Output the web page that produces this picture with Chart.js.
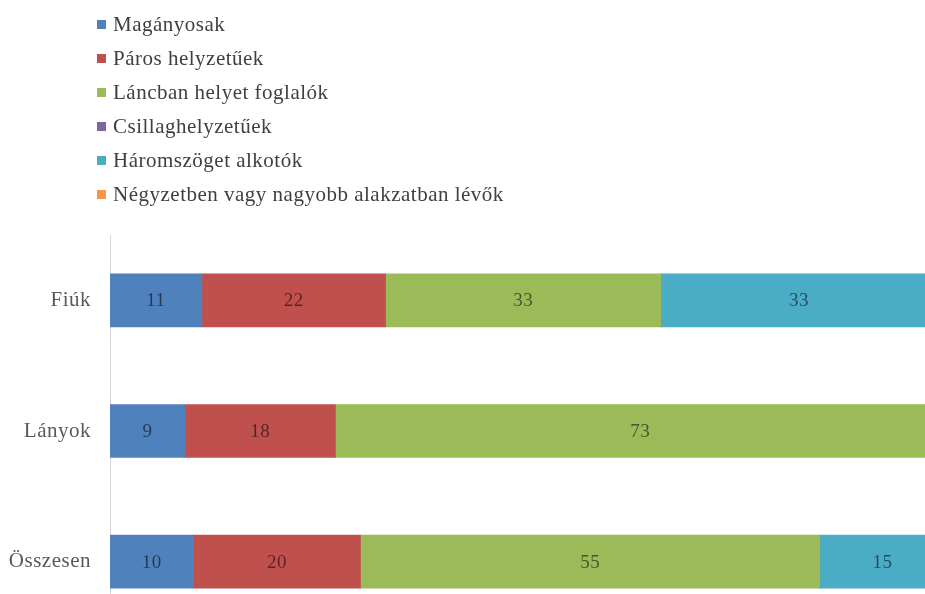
<!DOCTYPE html>
<html>
<head>
<meta charset="utf-8">
<script src="https://cdn.jsdelivr.net/npm/chart.js@4.4.0/dist/chart.umd.min.js"></script>
<style>
  html, body { margin: 0; padding: 0; background: #fff; overflow: hidden; width: 925px; height: 594px; }
  #wrap { width: 950px; height: 627px; position: relative; }
  #chart { display: block; width: 950px; height: 627px; }
</style>
</head>
<body>
<div id="wrap">
  <canvas id="chart" width="950" height="627"></canvas>
</div>
<script>
// ---------- Data ----------
const categories = ["Fiúk", "Lányok", "Összesen"];
const seriesNames = [
  "Magányosak",
  "Páros helyzetűek",
  "Láncban helyet foglalók",
  "Csillaghelyzetűek",
  "Háromszöget alkotók",
  "Négyzetben vagy nagyobb alakzatban lévők",
];
const maganyosak = [11, 9, 10];
const paros      = [22, 18, 20];
const lancban    = [33, 73, 55];
const csillag    = [0, 0, 0];
const haromszog  = [33, 0, 15];
const negyzet    = [0, 0, 0];

const colors = ["#4F81BD", "#C0504D", "#9BBB59", "#8064A2", "#4BACC6", "#F79646"];
const FONT = "'Liberation Serif', 'Times New Roman', serif";

// ---------- Helper: slightly spaced text like the original ----------
const spacing = {
  id: "spacing",
  beforeInit(chart) { chart.ctx.letterSpacing = "0.5px"; },
  beforeDraw(chart) { chart.ctx.letterSpacing = "0.5px"; },
};

// ---------- Helper: vertical legend in the top-left corner ----------
const legendPlugin = {
  id: "vlegend",
  afterDraw(chart) {
    const ctx = chart.ctx;
    ctx.save();
    ctx.letterSpacing = "0.5px";
    ctx.font = "21px " + FONT;
    ctx.textBaseline = "middle";
    chart.data.datasets.forEach((ds, i) => {
      const y = 24 + i * 34;
      ctx.fillStyle = ds.backgroundColor;
      ctx.fillRect(97, y - 4, 9, 9);
      ctx.fillStyle = "#404040";
      ctx.fillText(ds.label, 113, y + 1);
    });
    ctx.restore();
  },
};

// ---------- Helper: value labels centred in each segment ----------
const valueLabels = {
  id: "valueLabels",
  afterDatasetsDraw(chart) {
    const ctx = chart.ctx;
    ctx.save();
    ctx.letterSpacing = "0.5px";
    ctx.font = "19px " + FONT;
    ctx.textAlign = "center";
    ctx.textBaseline = "middle";
    chart.data.datasets.forEach((ds, i) => {
      const meta = chart.getDatasetMeta(i);
      meta.data.forEach((bar, j) => {
        const v = ds.data[j];
        if (!v) return;
        const p = bar.getCenterPoint();
        ctx.fillStyle = "rgba(0,0,0,0.55)";
        ctx.fillText(String(v), p.x, p.y + 1);
      });
    });
    ctx.restore();
  },
};

const seriesData = [maganyosak, paros, lancban, csillag, haromszog, negyzet];

new Chart(document.getElementById("chart"), {
  type: "bar",
  data: {
    labels: categories,
    datasets: seriesNames.map((name, i) => ({
      label: name,
      data: seriesData[i],
      backgroundColor: colors[i],
      borderWidth: 0,
      barThickness: 53,
    })),
  },
  options: {
    indexAxis: "y",
    responsive: false,
    animation: false,
    layout: { padding: { top: 235, right: 5, left: 0, bottom: 0 } },
    plugins: {
      legend: { display: false },
      tooltip: { enabled: false },
    },
    scales: {
      x: {
        stacked: true,
        min: 0,
        max: 100,
        display: false,
      },
      y: {
        stacked: true,
        grid: { display: false, drawTicks: false },
        border: { display: true, color: "#d9d9d9", width: 1 },
        ticks: {
          color: "#595959",
          font: { family: FONT, size: 21 },
          padding: 19,
        },
        afterFit: (scale) => {
          scale.width = 110;
          scale.paddingTop = 0;
          scale.paddingBottom = 0;
        },
      },
    },
  },
  plugins: [spacing, legendPlugin, valueLabels],
});
</script>
</body>
</html>
